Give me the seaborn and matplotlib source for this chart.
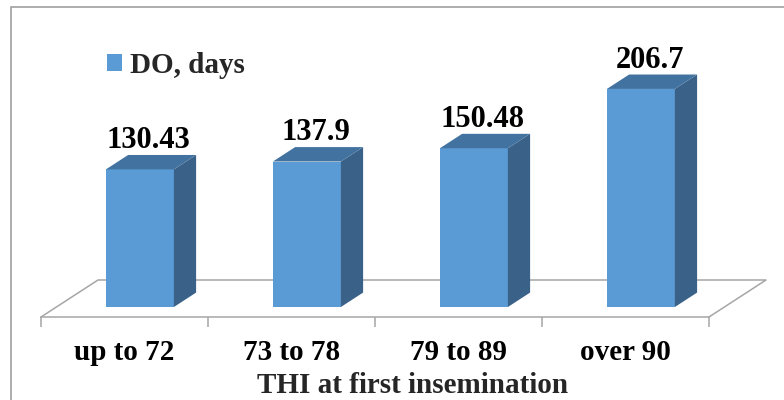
import numpy as np
import pandas as pd
import matplotlib
matplotlib.use("Agg")
import matplotlib.pyplot as plt
from matplotlib.patches import Polygon, Patch, Rectangle
import seaborn as sns

# data
categories = ["up to 72", "73 to 78", "79 to 89", "over 90"]
do_days = [130.43, 137.9, 150.48, 206.7]
value_labels = ["130.43", "137.9", "150.48", "206.7"]
series_name = "DO, days"
x_title = "THI at first insemination"

# colours (Excel-like 3D bars)
front_col = "#5B9BD5"
side_col = "#3A6288"
top_col = "#42729F"
grid_col = "#A6A6A6"

sns.set_theme(style="white")
plt.rcParams["font.family"] = ["Liberation Serif", "DejaVu Serif"]
plt.rcParams["font.weight"] = "bold"

W, H = 784, 400
fig = plt.figure(figsize=(W / 100, H / 100), dpi=100)

# axes placed so that floor front edge spans the category range
ax = fig.add_axes([41 / W, 83 / H, 743 / W, 310 / H])

df = pd.DataFrame({"thi": categories, "do": do_days})
sns.barplot(data=df, x="thi", y="do", color=front_col, width=0.407,
            saturation=1, ax=ax, zorder=3, linewidth=0)

ax.set_xlim(-0.5, -0.5 + 743 / 167)
ax.set_ylim(0, 310 / 1.055)

# oblique depth projection
ddx = 57 / 167      # x shift per unit depth
ddy = 37 / 1.055    # y shift per unit depth
d0, d1 = 0.27, 0.66

# floor
n = len(categories)
xl, xr = -0.5, n - 0.5
ax.plot([xl, xl + ddx, xr + ddx, xr], [0, ddy, ddy, 0], color=grid_col,
        lw=1.1, zorder=1, clip_on=False)

for p, lab in zip(ax.patches, value_labels):
    w = p.get_width()
    h = p.get_height()
    x0 = p.get_x() + d0 * ddx
    y0 = d0 * ddy
    p.set_x(x0)
    p.set_y(y0)
    sx = (d1 - d0) * ddx
    sy = (d1 - d0) * ddy
    side = Polygon([(x0 + w, y0), (x0 + w + sx, y0 + sy),
                    (x0 + w + sx, y0 + h + sy), (x0 + w, y0 + h)],
                   closed=True, facecolor=side_col, edgecolor="none", zorder=3)
    top = Polygon([(x0, y0 + h), (x0 + w, y0 + h),
                   (x0 + w + sx, y0 + h + sy), (x0 + sx, y0 + h + sy)],
                  closed=True, facecolor=top_col, edgecolor="none", zorder=3)
    ax.add_patch(side)
    ax.add_patch(top)
    ax.annotate(lab, (x0 + w / 2 + sx * 0.4, y0 + h + sy),
                xytext=(0, 0), textcoords="offset points",
                ha="center", va="bottom", fontsize=22, fontweight="bold",
                color="black")

# axes styling
sns.despine(ax=ax, left=True, top=True, right=True)
ax.spines["bottom"].set_bounds(xl, xr)
ax.spines["bottom"].set_color(grid_col)
ax.spines["bottom"].set_linewidth(1.1)
ax.set_yticks([])
ax.set_ylabel("")
ax.set_xticks(range(n))
ax.set_xticklabels(categories, fontsize=21, fontweight="bold")
ax.set_xticks(np.arange(n + 1) - 0.5, minor=True)
ax.tick_params(axis="x", which="major", length=0, pad=16, colors="black")
ax.tick_params(axis="x", which="minor", length=7, width=1.1,
               color=grid_col, bottom=True)
ax.set_xlabel(x_title, fontsize=21, fontweight="bold", labelpad=4)
ax.patch.set_alpha(0)

# legend
ax.legend(handles=[Patch(facecolor=front_col, edgecolor="none")],
          labels=[series_name], loc="upper left",
          bbox_to_anchor=(107 / W, 1 - 52 / H), bbox_transform=fig.transFigure,
          frameon=False, handlelength=0.5, handleheight=0.5,
          handletextpad=0.3, borderpad=0, borderaxespad=0,
          prop={"weight": "bold", "size": 21})

# chart border
fig.patches.append(Rectangle((11 / W, -0.1), 2, (H - 7) / H + 0.1,
                             transform=fig.transFigure, fill=False,
                             edgecolor="#A0A0A0", lw=1.2))

fig.savefig("out.png", dpi=100)
